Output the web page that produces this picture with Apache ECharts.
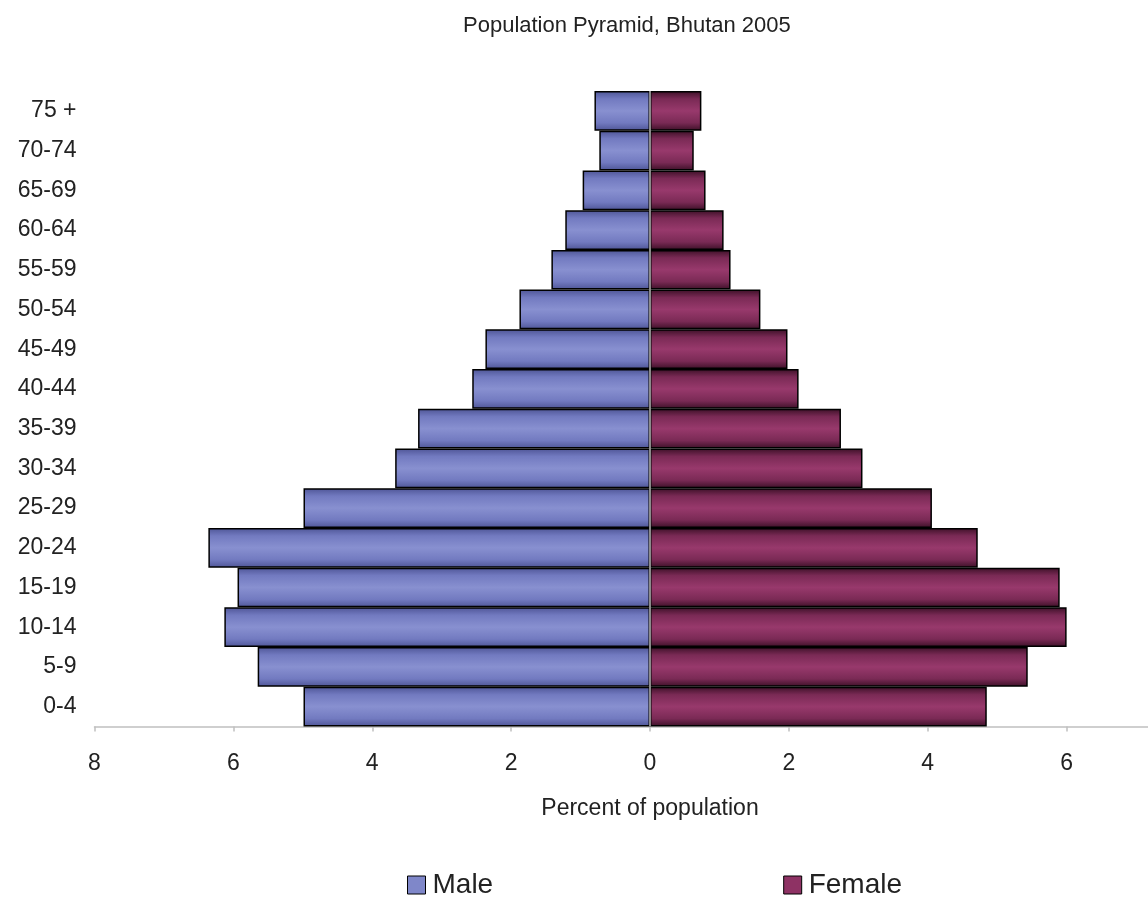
<!DOCTYPE html>
<html>
<head>
<meta charset="utf-8">
<title>Population Pyramid, Bhutan 2005</title>
<script src="https://cdn.jsdelivr.net/npm/echarts@6/dist/echarts.min.js"></script>
<style>
  html, body { margin: 0; padding: 0; background: #fff; }
  #main { width: 1148px; height: 897px; }
</style>
</head>
<body>
<div id="main"></div>
<script>
// age groups, bottom to top
const ageGroups = ["0-4", "5-9", "10-14", "15-19", "20-24", "25-29", "30-34", "35-39",
  "40-44", "45-49", "50-54", "55-59", "60-64", "65-69", "70-74", "75 +"];
// percent of population
const male = [4.99, 5.65, 6.13, 5.94, 6.36, 4.99, 3.67, 3.34, 2.56, 2.37, 1.88, 1.42, 1.22, 0.97, 0.73, 0.80];
const female = [4.85, 5.44, 6.00, 5.90, 4.72, 4.06, 3.06, 2.75, 2.14, 1.98, 1.59, 1.16, 1.06, 0.80, 0.63, 0.74];
const xTicks = [-8, -6, -4, -2, 0, 2, 4, 6, 8];

const font = "'Liberation Sans', Arial, sans-serif";

function barFill(edge, mid, light) {
  return new echarts.graphic.LinearGradient(0, 0, 0, 1, [
    { offset: 0, color: edge },
    { offset: 0.2, color: mid },
    { offset: 0.5, color: light },
    { offset: 0.8, color: mid },
    { offset: 1, color: edge }
  ]);
}

const chart = echarts.init(document.getElementById("main"));

chart.setOption({
  animation: false,
  textStyle: { fontFamily: font },
  title: {
    text: "Population Pyramid, Bhutan 2005",
    left: 458,
    top: 10,
    textStyle: { fontFamily: font, fontSize: 22, fontWeight: "normal", color: "#222" }
  },
  legend: {
    left: 402,
    top: 866,
    icon: "rect",
    itemWidth: 18,
    itemHeight: 18,
    itemGap: 290,
    textStyle: { fontFamily: font, fontSize: 28, color: "#222", padding: [0, 0, 0, 2] },
    data: [
      { name: "Male", itemStyle: { color: "#7f87c9", borderColor: "#000", borderWidth: 1 } },
      { name: "Female", itemStyle: { color: "#8e3264", borderColor: "#000", borderWidth: 1 } }
    ]
  },
  grid: {
    left: 94.5,
    right: -57.5,
    top: 91,
    bottom: 170.5,
    containLabel: false,
    outerBoundsMode: "none"
  },
  xAxis: {
    type: "value",
    min: xTicks[0],
    max: xTicks[xTicks.length - 1],
    interval: 2,
    name: "Percent of population",
    nameLocation: "middle",
    nameGap: 71,
    nameTextStyle: { fontFamily: font, fontSize: 23, color: "#222" },
    axisLine: { show: true, lineStyle: { color: "#c0c0c0", width: 1.5 } },
    axisTick: { show: true, length: 5, lineStyle: { color: "#c0c0c0", width: 1.5 } },
    axisLabel: {
      margin: 26,
      fontFamily: font,
      fontSize: 23,
      color: "#222",
      formatter: function (v) { return Math.abs(v); }
    },
    splitLine: { show: false }
  },
  yAxis: {
    type: "category",
    data: ageGroups,
    axisLine: { show: false },
    axisTick: { show: false },
    axisLabel: { margin: 18, fontFamily: font, fontSize: 23, color: "#222" }
  },
  series: [
    {
      name: "Male",
      type: "bar",
      stack: "pop",
      barCategoryGap: "0%",
      data: male.map(function (v) { return -v; }),
      itemStyle: {
        color: barFill("#4e5596", "#727ac0", "#8890d0"),
        borderColor: "#000",
        borderWidth: 1.5
      }
    },
    {
      name: "Female",
      type: "bar",
      stack: "pop",
      barCategoryGap: "0%",
      data: female,
      itemStyle: {
        color: barFill("#3c1027", "#7a2a55", "#98396c"),
        borderColor: "#000",
        borderWidth: 1.5
      },
      markLine: {
        silent: true,
        symbol: "none",
        label: { show: false },
        lineStyle: { color: "#8a8a8a", width: 2, type: "solid" },
        data: [{ xAxis: 0 }]
      }
    }
  ]
});
</script>
</body>
</html>
